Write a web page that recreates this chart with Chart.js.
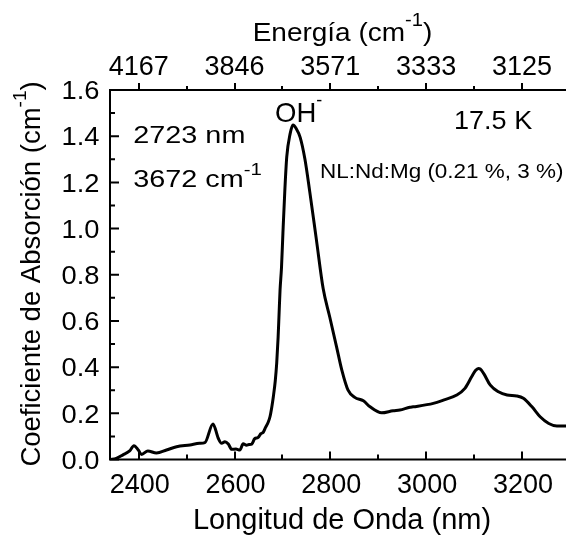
<!DOCTYPE html>
<html><head><meta charset="utf-8">
<script src="https://cdn.jsdelivr.net/npm/chart.js@4.4.1/dist/chart.umd.min.js"></script>
<style>html,body{margin:0;padding:0;background:#fff;}canvas{display:block;}</style>
</head><body>
<canvas id="c" width="566" height="540"></canvas>
<script>
// Wavelength (nm) and absorption coefficient (cm^-1)
const wavelengthNm = [2340,2353,2367,2381,2390,2399,2406,2419,2437,2458,2479,2507,2527,2538,2555,2566,2573,2580,2587,2594,2603,2611,2618,2625,2630,2636,2642,2649,2655,2660,2665,2670,2674,2678,2681,2685,2688,2691,2693,2695,2698,2701,2705,2709,2716,2722,2729,2737,2747,2757,2771,2785,2799,2813,2824,2837,2851,2869,2883,2907,2931,2945,2966,2973,3015,3036,3064,3081,3095,3103,3109,3113,3120,3134,3151,3169,3189,3203,3221,3238,3256,3273,3292];
const absorption   = [0.000,0.005,0.020,0.037,0.060,0.041,0.022,0.037,0.028,0.041,0.055,0.063,0.070,0.073,0.154,0.092,0.070,0.077,0.067,0.044,0.045,0.041,0.068,0.062,0.065,0.067,0.090,0.095,0.112,0.118,0.140,0.160,0.185,0.230,0.272,0.340,0.416,0.530,0.632,0.733,0.830,0.980,1.165,1.310,1.410,1.448,1.432,1.395,1.300,1.160,0.950,0.740,0.615,0.488,0.387,0.300,0.269,0.254,0.228,0.202,0.211,0.214,0.226,0.228,0.243,0.257,0.279,0.308,0.358,0.385,0.394,0.392,0.373,0.322,0.293,0.279,0.275,0.265,0.228,0.185,0.156,0.145,0.145];

const xMajorTicks = [2400,2600,2800,3000,3200];
const xMinorTicks = [2500,2700,2900,3100];
const xTickLabels = ['2400','2600','2800','3000','3200'];
const topTickLabels = ['4167','3846','3571','3333','3125'];
const yMajorTicks = [0,0.2,0.4,0.6,0.8,1.0,1.2,1.4,1.6];
const yMinorTicks = [0.1,0.3,0.5,0.7,0.9,1.1,1.3,1.5];
const yTickLabels = ['0.0','0.2','0.4','0.6','0.8','1.0','1.2','1.4','1.6'];

const FONT = '"Liberation Sans", Arial, sans-serif';

function txt(ctx, segs, x, y, align, sx) {
  sx = sx || 1;
  const widths = segs.map(s => { ctx.font = s[1] + 'px ' + FONT; return ctx.measureText(s[0]).width; });
  const total = widths.reduce((a, b) => a + b, 0) * sx;
  const x0 = align === 'center' ? x - total / 2 : align === 'right' ? x - total : x;
  ctx.save();
  ctx.translate(x0, y);
  ctx.scale(sx, 1);
  ctx.textBaseline = 'alphabetic';
  ctx.textAlign = 'left';
  ctx.fillStyle = '#000';
  let cx = 0;
  segs.forEach((s, i) => {
    ctx.font = s[1] + 'px ' + FONT;
    ctx.fillText(s[0], cx, -(s[2] || 0));
    cx += widths[i];
  });
  ctx.restore();
}

const decor = {
  id: 'decor',
  afterDraw(chart) {
    const ctx = chart.ctx;
    const a = chart.chartArea;
    const xs = chart.scales.x, ys = chart.scales.y;
    ctx.save();
    ctx.strokeStyle = '#000';
    ctx.lineWidth = 2;
    ctx.lineCap = 'square';
    ctx.beginPath();
    ctx.moveTo(a.left, a.top); ctx.lineTo(a.left, a.bottom);
    ctx.moveTo(a.left, a.bottom); ctx.lineTo(a.right + 2, a.bottom);
    ctx.moveTo(a.left, a.top); ctx.lineTo(a.right + 2, a.top);
    ctx.stroke();
    ctx.lineCap = 'butt';
    ctx.beginPath();
    xMajorTicks.forEach(v => {
      const px = Math.round(xs.getPixelForValue(v));
      ctx.moveTo(px, a.bottom); ctx.lineTo(px, a.bottom - 8);
      ctx.moveTo(px, a.top); ctx.lineTo(px, a.top - 7);
    });
    xMinorTicks.forEach(v => {
      const px = Math.round(xs.getPixelForValue(v));
      ctx.moveTo(px, a.bottom); ctx.lineTo(px, a.bottom - 5);
      ctx.moveTo(px, a.top); ctx.lineTo(px, a.top - 4);
    });
    yMajorTicks.forEach(v => {
      const py = ys.getPixelForValue(v);
      ctx.moveTo(a.left, py); ctx.lineTo(a.left + 9, py);
    });
    yMinorTicks.forEach(v => {
      const py = ys.getPixelForValue(v);
      ctx.moveTo(a.left, py); ctx.lineTo(a.left + 5, py);
    });
    ctx.stroke();

    // tick labels
    xMajorTicks.forEach((v, i) => {
      const px = xs.getPixelForValue(v);
      txt(ctx, [[xTickLabels[i], 27]], px + 1, 492.5, 'center');
      txt(ctx, [[topTickLabels[i], 27]], px, 75, 'center');
    });
    yMajorTicks.forEach((v, i) => {
      const py = ys.getPixelForValue(v);
      txt(ctx, [[yTickLabels[i], 26]], 99.5, py + 9.3, 'right', 1.05);
    });

    // axis titles
    txt(ctx, [['Longitud de Onda (nm)', 29]], 342, 528.5, 'center');
    txt(ctx, [['Energía (cm', 25], ['-1', 18, 15], [')', 25]], 342.5, 40.7, 'center', 1.12);
    ctx.save();
    ctx.translate(40, 274);
    ctx.rotate(-Math.PI / 2);
    txt(ctx, [['Coeficiente de Absorción (cm', 27.5], ['-1', 19, 14], [')', 27.5]], 0, 0, 'center');
    ctx.restore();

    // annotations
    txt(ctx, [['2723 nm', 24]], 133.3, 143.3, 'left', 1.2);
    txt(ctx, [['3672 cm', 24], ['-1', 17, 12]], 133.3, 186.5, 'left', 1.2);
    txt(ctx, [['OH', 27.5], ['-', 18, 16]], 275, 121.7, 'left');
    txt(ctx, [['17.5 K', 26]], 454, 128.5, 'left', 1.04);
    txt(ctx, [['NL:Nd:Mg (0.21 %, 3 %)', 21]], 320, 178, 'left', 1.07);
    ctx.restore();
  }
};

const points = wavelengthNm.map((w, i) => ({ x: w, y: absorption[i] }));

new Chart(document.getElementById('c'), {
  type: 'line',
  data: { datasets: [{ data: points, borderColor: '#000', borderWidth: 3, pointRadius: 0, fill: false, cubicInterpolationMode: 'monotone' }] },
  options: {
    responsive: false,
    devicePixelRatio: 1,
    animation: false,
    layout: { padding: { left: 110, right: 0, top: 90, bottom: 80.5 } },
    plugins: { legend: { display: false }, tooltip: { enabled: false } },
    scales: {
      x: { type: 'linear', min: 2340, max: 3292, display: false },
      y: { type: 'linear', min: 0, max: 1.6, display: false }
    }
  },
  plugins: [decor]
});
</script>
</body></html>
